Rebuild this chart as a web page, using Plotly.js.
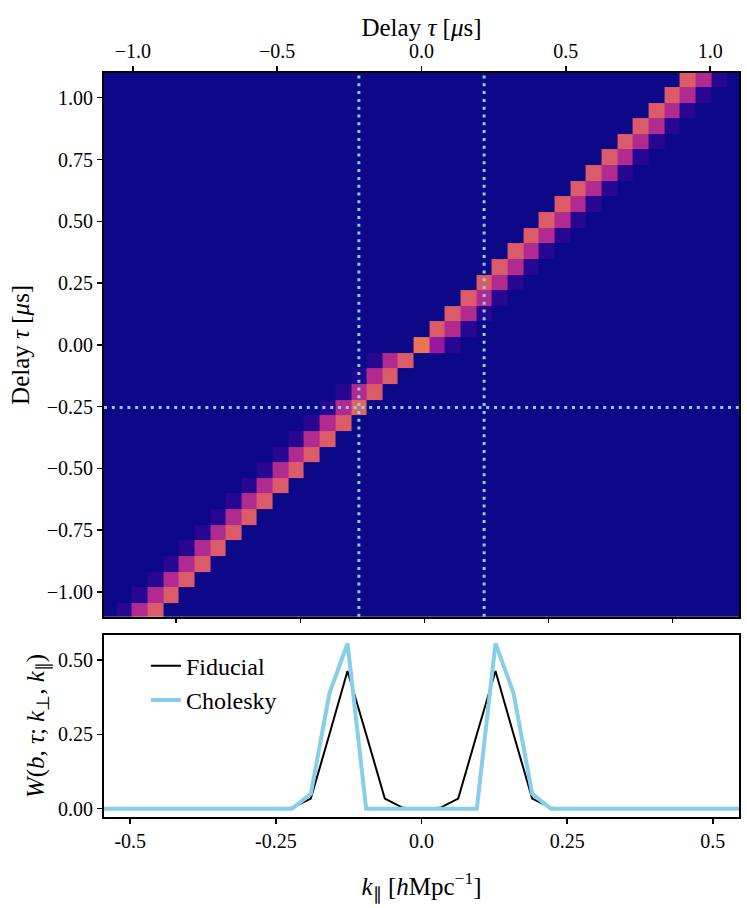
<!DOCTYPE html>
<html>
<head>
<meta charset="utf-8">
<script src="https://cdn.plot.ly/plotly-3.0.1.min.js"></script>
<style>html,body{margin:0;padding:0;background:#fff;}#chart{width:747px;height:908px;}</style>
</head>
<body>
<div id="chart"></div>
<script>
// ---------- data: delay-delay window (heatmap) ----------
// column centres (delay tau, us), 41 columns
const colTau = [-1.085, -1.031, -0.977, -0.922, -0.868, -0.814, -0.760, -0.705, -0.651, -0.597,
  -0.543, -0.488, -0.434, -0.380, -0.326, -0.271, -0.217, -0.163, -0.109, -0.054, 0.000,
  0.054, 0.109, 0.163, 0.217, 0.271, 0.326, 0.380, 0.434, 0.488, 0.543, 0.597, 0.651,
  0.705, 0.760, 0.814, 0.868, 0.922, 0.977, 1.031, 1.085];
// row centres (delay tau, us), 35 rows, listed top to bottom
const rowTau = [1.076, 1.012, 0.949, 0.886, 0.823, 0.759, 0.696, 0.633, 0.569, 0.506,
  0.443, 0.380, 0.316, 0.253, 0.190, 0.127, 0.063, 0.000, -0.063, -0.127, -0.190, -0.253,
  -0.316, -0.380, -0.443, -0.506, -0.569, -0.633, -0.696, -0.759, -0.823, -0.886, -0.949,
  -1.012, -1.076];
// per row: column index of the brightest cell, of the middle cell and of the faint cell
const peakCol = [37, 36, 35, 34, 33, 32, 31, 30, 29, 28, 27, 26, 25, 24, 23, 22, 21, 20,
  19, 18, 17, 16, 15, 14, 13, 12, 11, 10, 9, 8, 7, 6, 5, 4, 3];
const midCol = [38, 37, 36, 35, 34, 33, 32, 31, 30, 29, 28, 27, 26, 25, 24, 23, 22, 21,
  18, 17, 16, 15, 14, 13, 12, 11, 10, 9, 8, 7, 6, 5, 4, 3, 2];
const faintCol = [39, 38, 37, 36, 35, 34, 33, 32, 31, 30, 29, 28, 27, 26, 25, 24, 23, 22,
  17, 16, 15, 14, 13, 12, 11, 10, 9, 8, 7, 6, 5, 4, 3, 2, 1];
const peakVal = [0.57, 0.57, 0.57, 0.57, 0.57, 0.57, 0.57, 0.57, 0.57, 0.57, 0.57, 0.57,
  0.57, 0.57, 0.57, 0.57, 0.57, 0.65, 0.57, 0.57, 0.57, 0.60, 0.57, 0.57, 0.57, 0.57,
  0.57, 0.57, 0.57, 0.57, 0.57, 0.57, 0.57, 0.57, 0.57];
const midVal = [0.40, 0.40, 0.40, 0.40, 0.40, 0.40, 0.40, 0.40, 0.40, 0.40, 0.40, 0.40,
  0.40, 0.40, 0.40, 0.40, 0.40, 0.33, 0.40, 0.40, 0.40, 0.40, 0.40, 0.40, 0.40, 0.40,
  0.40, 0.40, 0.40, 0.40, 0.40, 0.40, 0.40, 0.40, 0.40];
const faintVal = [0.05, 0.05, 0.05, 0.05, 0.05, 0.05, 0.05, 0.05, 0.05, 0.05, 0.05, 0.05,
  0.05, 0.05, 0.05, 0.05, 0.05, 0.05, 0.05, 0.035, 0.05, 0.05, 0.05, 0.05, 0.05, 0.05,
  0.05, 0.05, 0.05, 0.05, 0.05, 0.05, 0.05, 0.05, 0.05];
// dotted marker lines
const markerColTau = [-0.217, 0.217];
const markerRowTau = [-0.253];
// unlabeled ticks on the lower edge of the heatmap
const lowerEdgeTicks = [-0.85, -0.42, 0.01, 0.44, 0.87];

// ---------- data: window function vs k_parallel ----------
const kPar = [-0.570, -0.538, -0.506, -0.475, -0.443, -0.411, -0.380, -0.348, -0.317, -0.285,
  -0.253, -0.222, -0.190, -0.158, -0.127, -0.095, -0.063, -0.032, 0.000, 0.032, 0.063,
  0.095, 0.127, 0.158, 0.190, 0.222, 0.253, 0.285, 0.317, 0.348, 0.380, 0.411, 0.443,
  0.475, 0.506, 0.538, 0.570];
const fiducial = [0, 0, 0, 0, 0, 0, 0, 0, 0, 0, 0, 0.003, 0.034, 0.25, 0.463, 0.25, 0.034,
  0.003, 0, 0.003, 0.034, 0.25, 0.463, 0.25, 0.034, 0.003, 0, 0, 0, 0, 0, 0, 0, 0, 0, 0, 0];
const cholesky = [0, 0, 0, 0, 0, 0, 0, 0, 0, 0, 0, 0, 0.05, 0.388, 0.556, 0, 0, 0, 0, 0,
  0, 0, 0.556, 0.388, 0.05, 0, 0, 0, 0, 0, 0, 0, 0, 0, 0, 0, 0];

// ---------- build heatmap table ----------
const z = rowTau.map(() => colTau.map(() => 0));
rowTau.forEach((_, r) => {
  z[r][peakCol[r]] = peakVal[r];
  z[r][midCol[r]] = midVal[r];
  z[r][faintCol[r]] = faintVal[r];
});

const plasma = [
  [0.0, '#0d0887'], [0.1, '#41049d'], [0.2, '#6a00a8'], [0.3, '#8f0da4'],
  [0.4, '#b12a90'], [0.5, '#cc4778'], [0.6, '#e16462'], [0.7, '#f2844b'],
  [0.8, '#fca636'], [0.9, '#fcce25'], [1.0, '#f0f921']
];

const FONT = 'Liberation Serif, Times New Roman, serif';
const markerColor = '#87ceeb';

const traces = [
  {
    type: 'heatmap', x: colTau, y: rowTau, z: z,
    colorscale: plasma, zmin: 0, zmax: 1, showscale: false, zsmooth: false,
    xaxis: 'x', yaxis: 'y', hoverinfo: 'skip'
  },
  {
    type: 'scatter', mode: 'lines', x: [], y: [], xaxis: 'x3', yaxis: 'y',
    showlegend: false, hoverinfo: 'skip'
  },
  {
    type: 'scatter', mode: 'lines', x: [], y: [], xaxis: 'x4', yaxis: 'y',
    showlegend: false, hoverinfo: 'skip'
  },
  {
    type: 'scatter', mode: 'lines', x: kPar, y: fiducial, name: 'Fiducial',
    line: {color: '#000000', width: 2}, xaxis: 'x2', yaxis: 'y2',
    legendgroup: 'a'
  },
  {
    type: 'scatter', mode: 'lines', x: kPar, y: cholesky, name: 'Cholesky',
    line: {color: markerColor, width: 4}, xaxis: 'x2', yaxis: 'y2',
    legendgroup: 'b'
  }
];

const shapes = [];
markerColTau.forEach(v => shapes.push({
  type: 'line', xref: 'x', yref: 'y domain', x0: v, x1: v, y0: 0, y1: 1,
  line: {color: markerColor, width: 3, dash: '3px,4.8px'}, layer: 'above'
}));
markerRowTau.forEach(v => shapes.push({
  type: 'line', xref: 'x domain', yref: 'y', x0: 0, x1: 1, y0: v, y1: v,
  line: {color: markerColor, width: 3, dash: '3px,4.8px'}, layer: 'above'
}));

const axBase = {
  showline: true, linecolor: '#000', linewidth: 2, mirror: true,
  ticks: 'outside', ticklen: 5, tickwidth: 1.5, tickcolor: '#000',
  showgrid: false, zeroline: false, automargin: false,
  tickfont: {family: FONT, size: 20, color: '#000'}
};
const TITLE_FONT = {family: FONT, size: 25, color: '#000'};

const layout = {
  width: 747, height: 908,
  margin: {l: 104, r: 8, t: 73, b: 91},
  paper_bgcolor: '#fff', plot_bgcolor: '#fff',
  font: {family: FONT, size: 20, color: '#000'},
  showlegend: true,
  legend: {
    x: 0.066, y: 0.233, xanchor: 'left', yanchor: 'top',
    font: {family: FONT, size: 24, color: '#000'},
    bgcolor: 'rgba(255,255,255,0)', borderwidth: 0, tracegroupgap: 0
  },
  xaxis: Object.assign({}, axBase, {
    domain: [0, 1], anchor: 'y', side: 'top', range: [-1.1, 1.1],
    tickvals: [-1, -0.5, 0, 0.5, 1], tickformat: '.1f'
  }),
  xaxis4: {
    overlaying: 'x', anchor: 'y', side: 'top', range: [-1.1, 1.1],
    showticklabels: false, ticks: '', showline: false, showgrid: false, zeroline: false,
    automargin: false,
    title: {text: 'Delay <i>τ</i> [<i>μ</i>s]', font: TITLE_FONT, standoff: 28}
  },
  xaxis3: Object.assign({}, axBase, {
    overlaying: 'x', anchor: 'y', side: 'bottom', range: [-1.1, 1.1],
    tickvals: lowerEdgeTicks, showticklabels: false, showline: false
  }),
  yaxis: Object.assign({}, axBase, {
    domain: [0.2692, 1], anchor: 'x', range: [-1.1, 1.1],
    tickvals: [-1, -0.75, -0.5, -0.25, 0, 0.25, 0.5, 0.75, 1], tickformat: '.2f',
    title: {text: 'Delay <i>τ</i> [<i>μ</i>s]', font: TITLE_FONT, standoff: 10}
  }),
  xaxis2: Object.assign({}, axBase, {
    domain: [0, 1], anchor: 'y2', range: [-0.545, 0.545],
    tickvals: [-0.5, -0.25, 0, 0.25, 0.5], ticktext: ['-0.5', '-0.25', '0.0', '0.25', '0.5'],
    title: {text: '<i>k</i><sub>∥</sub> [<i>h</i>Mpc<sup>−1</sup>]', font: TITLE_FONT, standoff: 26}
  }),
  yaxis2: Object.assign({}, axBase, {
    domain: [0, 0.2446], anchor: 'x2', range: [-0.028, 0.584],
    tickvals: [0, 0.25, 0.5], tickformat: '.2f',
    title: {text: '<i>W</i>(<i>b</i>, <i>τ</i>; <i>k</i><sub>⊥</sub>, <i>k</i><sub>∥</sub>)', font: TITLE_FONT, standoff: 6}
  }),
  shapes: shapes
};

Plotly.newPlot('chart', traces, layout, {staticPlot: true, displayModeBar: false});
</script>
</body>
</html>
